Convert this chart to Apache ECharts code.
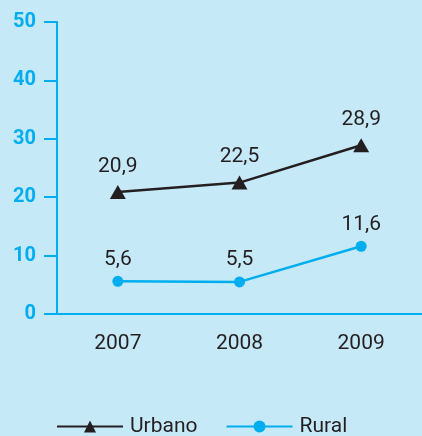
<!DOCTYPE html>
<html>
<head>
<meta charset="utf-8">
<script src="https://cdn.jsdelivr.net/npm/echarts@6/dist/echarts.min.js"></script>
<style>
  html, body { margin: 0; padding: 0; background: #c6e9f8; }
  #chart { width: 422px; height: 436px; }
</style>
</head>
<body>
<div id="chart"></div>
<script>
  // categorias e valores
  const years = ['2007', '2008', '2009'];
  const urbano = [20.9, 22.5, 28.9];
  const rural = [5.6, 5.5, 11.6];
  const yTicks = [0, 10, 20, 30, 40, 50];

  const cyan = '#00aeef';
  const dark = '#231f20';
  const font = "'Roboto', sans-serif";

  const myChart = echarts.init(document.getElementById('chart'));

  // rótulo com vírgula decimal
  const fmt = (p) => String(p.value).replace('.', ',');

  const option = {
    backgroundColor: '#c6e9f8',
    animation: false,
    grid: { left: 57, right: 0, top: 22, bottom: 122 },
    legend: {
      top: 416,
      left: 56,
      padding: 0,
      itemWidth: 66,
      itemHeight: 15,
      itemGap: 28,
      textStyle: { fontFamily: font, fontSize: 21, color: dark, padding: [0, 0, 0, 2] },
      data: ['Urbano', 'Rural']
    },
    xAxis: {
      type: 'category',
      data: years,
      axisLine: { lineStyle: { color: cyan, width: 2 } },
      axisTick: { length: 9, lineStyle: { color: cyan, width: 2 } },
      axisLabel: { fontFamily: font, fontSize: 21, color: dark, margin: 19 },
      splitLine: { show: false }
    },
    yAxis: {
      type: 'value',
      min: yTicks[0],
      max: yTicks[yTicks.length - 1],
      interval: 10,
      axisLine: { show: true, lineStyle: { color: cyan, width: 2 } },
      axisTick: { show: true, length: 13, lineStyle: { color: cyan, width: 2 } },
      axisLabel: { fontFamily: font, fontSize: 20, fontWeight: 'bold', color: cyan, margin: 21 },
      splitLine: { show: false }
    },
    series: [
      {
        name: 'Urbano',
        type: 'line',
        data: urbano,
        symbol: 'triangle',
        symbolSize: [16, 14],
        itemStyle: { color: dark },
        lineStyle: { color: dark, width: 2.5 },
        label: {
          show: true, position: 'top', distance: 8, formatter: fmt,
          fontFamily: font, fontSize: 21, color: dark
        }
      },
      {
        name: 'Rural',
        type: 'line',
        data: rural,
        symbol: 'circle',
        symbolSize: 11,
        itemStyle: { color: cyan },
        lineStyle: { color: cyan, width: 2.5 },
        label: {
          show: true, position: 'top', distance: 6, formatter: fmt,
          fontFamily: font, fontSize: 21, color: dark
        }
      }
    ]
  };

  myChart.setOption(option);
</script>
</body>
</html>
